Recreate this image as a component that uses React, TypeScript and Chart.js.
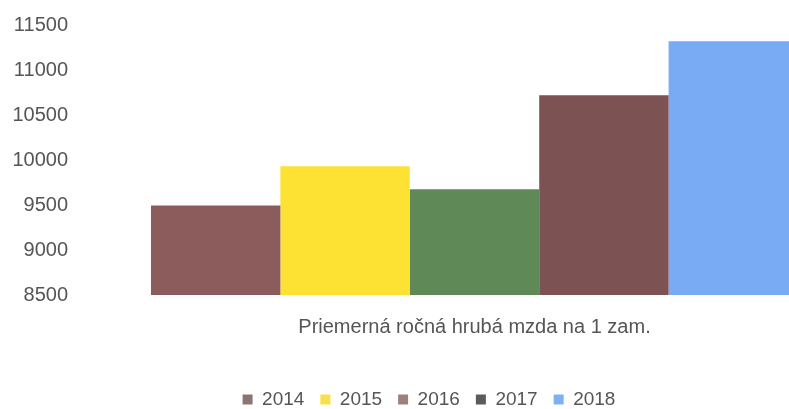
import React, { useEffect, useRef } from "react";
import { Chart, registerables } from "chart.js";

Chart.register(...registerables);

const categories = ["Priemerná ročná hrubá mzda na 1 zam."];
const years = ["2014", "2015", "2016", "2017", "2018"];
const values = [9495, 9930, 9675, 10720, 11320];
const barColors = ["#8c5b5c", "#fde234", "#5f8a57", "#7d5253", "#79aaf4"];
const legendColors = ["#8b7471", "#f9e04a", "#9a817a", "#5c5a5a", "#7fb1f2"];
const yTicks = [8500, 9000, 9500, 10000, 10500, 11000, 11500];

const FONT = "'Liberation Sans', Arial, sans-serif";

export default function App() {
  const ref = useRef<HTMLCanvasElement | null>(null);
  useEffect(() => {
    if (!ref.current) return;
    const chart = new Chart(ref.current, {
      type: "bar",
      data: {
        labels: categories,
        datasets: years.map((y, i) => ({
          label: y,
          data: [values[i]],
          backgroundColor: barColors[i],
          borderWidth: 0,
        })),
      },
      options: {
        animation: false,
        responsive: false,
        maintainAspectRatio: false,
        layout: { padding: { left: 0, right: 2, top: 25, bottom: -10 } },
        datasets: { bar: { barPercentage: 1, categoryPercentage: 0.8436 } },
        plugins: {
          tooltip: { enabled: false },
          legend: {
            position: "bottom",
            labels: {
              font: { family: FONT, size: 19 },
              color: "#555555",
              boxWidth: 10,
              boxHeight: 10,
              padding: 16,
              generateLabels: () =>
                years.map((y, i) => ({
                  text: y,
                  fillStyle: legendColors[i],
                  strokeStyle: legendColors[i],
                  lineWidth: 0,
                  hidden: false,
                  datasetIndex: i,
                  fontColor: "#555555",
                })),
            },
          },
        },
        scales: {
          x: {
            grid: { display: false, drawTicks: false },
            border: { display: false },
            ticks: {
              font: { family: FONT, size: 20 },
              color: "#555555",
              padding: 20,
            },
            afterFit: (scale: any) => {
              scale.height = 79;
            },
          },
          y: {
            min: 8500,
            max: 11500,
            grid: { display: false, drawTicks: false },
            border: { display: false },
            afterBuildTicks: (scale: any) => {
              scale.ticks = yTicks.map((v) => ({ value: v }));
            },
            afterFit: (scale: any) => {
              scale.width = 91;
              scale.paddingTop = 0;
              scale.paddingBottom = 0;
            },
            ticks: {
              font: { family: FONT, size: 20 },
              color: "#555555",
              padding: 23,
              callback: (v: any) => String(v),
            },
          },
        },
      },
    });
    return () => chart.destroy();
  }, []);
  return (
    <div
      style={{
        position: "fixed",
        left: 0,
        top: 0,
        width: 789,
        height: 409,
        overflow: "hidden",
        background: "#fff",
      }}
    >
      <canvas ref={ref} width={860} height={409} style={{ width: 860, height: 409, display: "block" }} />
    </div>
  );
}
